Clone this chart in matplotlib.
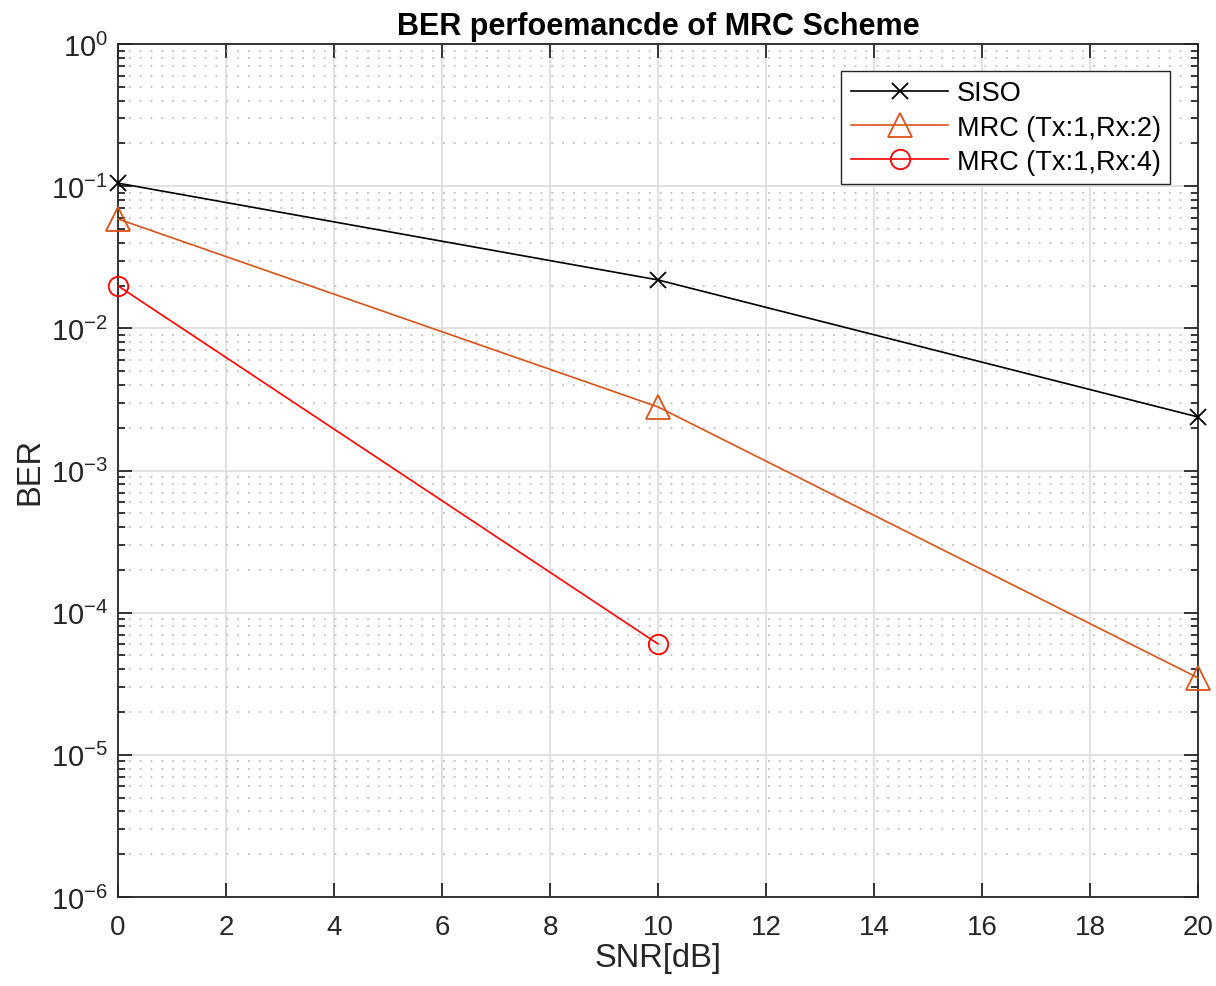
import matplotlib
matplotlib.use("Agg")
import matplotlib.pyplot as plt
from matplotlib.ticker import LogLocator, NullFormatter, FixedLocator

plt.rcParams['font.family'] = ['Liberation Sans', 'DejaVu Sans']
plt.rcParams['mathtext.fontset'] = 'custom'
plt.rcParams['mathtext.rm'] = 'Liberation Sans'
plt.rcParams['mathtext.it'] = 'Liberation Sans:italic'
plt.rcParams['mathtext.bf'] = 'Liberation Sans:bold'
plt.rcParams['mathtext.default'] = 'regular'

snr_siso = [0, 10, 20]
ber_siso = [0.105, 0.0219, 0.00238]
snr_mrc2 = [0, 10, 20]
ber_mrc2 = [0.0588, 0.0028, 3.48e-5]
snr_mrc4 = [0, 10]
ber_mrc4 = [0.0199, 6.03e-5]
labels = ['SISO', 'MRC (Tx:1,Rx:2)', 'MRC (Tx:1,Rx:4)']
xticks = list(range(0, 21, 2))

fig = plt.figure(figsize=(12.16, 9.87), dpi=100)
ax = fig.add_axes([118/1216, 1-898/987, (1198-118)/1216, (898-45)/987])

ax.semilogy(snr_siso, ber_siso, color='black', marker='x', markersize=11,
            markeredgewidth=1.3, linewidth=1.2, label=labels[0], clip_on=False, zorder=5)
ax.semilogy(snr_mrc2, ber_mrc2, color='#D95319', marker='^', markersize=17,
            markerfacecolor='none', markeredgewidth=1.3, linewidth=1.2, label=labels[1],
            clip_on=False, zorder=5)
ax.semilogy(snr_mrc4, ber_mrc4, color='#FF0000', marker='o', markersize=14,
            markerfacecolor='none', markeredgewidth=1.3, linewidth=1.2, label=labels[2],
            clip_on=False, zorder=5)

ax.set_xlim(0, 20)
ax.set_ylim(1e-6, 1)
ax.xaxis.set_major_locator(FixedLocator(xticks))
ax.yaxis.set_major_locator(LogLocator(base=10, numticks=10))
ax.yaxis.set_minor_locator(LogLocator(base=10, subs=[2,3,4,5,6,7,8,9], numticks=20))
ax.yaxis.set_minor_formatter(NullFormatter())

ax.grid(True, which='major', color='#DCDCDC', linestyle='-', linewidth=1.2)
ax.grid(True, which='minor', axis='y', color='#C0C0C0', linestyle=(0, (1, 5)), linewidth=1.3)
ax.set_axisbelow(True)

ax.tick_params(which='both', direction='in', top=True, right=True, colors='#262626',
               labelsize=20, width=1.3)
ax.tick_params(which='major', length=10)
ax.tick_params(axis='x', which='major', pad=12)
ax.tick_params(axis='y', which='major', pad=7, labelsize=21)
ax.tick_params(which='minor', length=5)
for s in ax.spines.values():
    s.set_color('#262626')
    s.set_linewidth(1.3)

ax.set_xlabel('SNR[dB]', fontsize=23.5, color='#262626', labelpad=2)
ax.set_ylabel('BER', fontsize=23.5, color='#262626', labelpad=4)
ax.set_title('BER perfoemancde of MRC Scheme', fontsize=22, fontweight='bold', pad=7)

leg = ax.legend(loc='upper right', bbox_to_anchor=(1052/1080, 1-27/853), fontsize=19.5,
                fancybox=False, framealpha=1, edgecolor='#262626', handlelength=3.6,
                borderpad=0.35, labelspacing=0.3, handletextpad=0.3, borderaxespad=0)
leg.get_frame().set_linewidth(1.0)

fig.savefig('out.png', dpi=100)
